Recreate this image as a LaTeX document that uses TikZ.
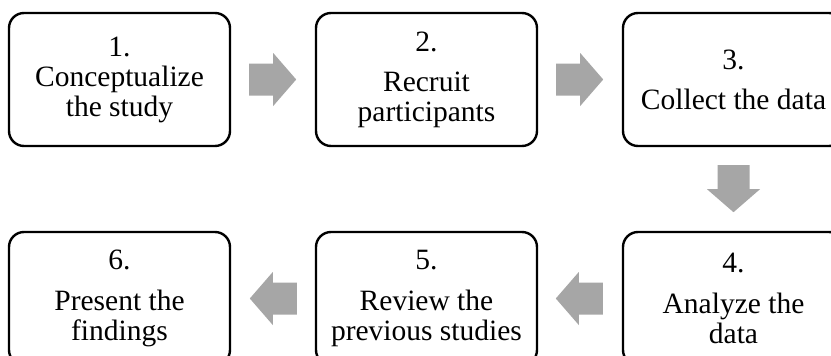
\documentclass[tikz,border=0pt]{standalone}
\usepackage{fontspec}
\setmainfont{Liberation Serif}
\usetikzlibrary{calc}
\definecolor{arrowgray}{RGB}{166,166,166}
\tikzset{
  stepbox/.style={draw=black, line width=2.4pt, rounded corners=15pt,
    minimum width=221pt, minimum height=133pt, inner sep=2pt,
    align=center, font=\fontsize{29.5}{30}\selectfont},
  pics/barrow/.style={code={
    \fill[arrowgray] (0,-16) -- (24,-16) -- (24,-26.5) -- (47,0) -- (24,26.5) -- (24,16) -- (0,16) -- cycle;}}
}
\begin{document}
\begin{tikzpicture}[x=1pt,y=1pt]
\fill[white] (0,0) rectangle (831,-356);
\useasboundingbox (0,0) rectangle (831,-356);
\node[stepbox] (b1) at (119.5,-79.5) {1.\\Conceptualize\\the study};
\node[stepbox] (b2) at (426.5,-79.5) {2.\\[10pt]Recruit\\participants};
\node[stepbox] (b3) at (733.5,-79.5) {3.\\[10pt]Collect the data};
\node[stepbox] (b4) at (733.5,-298.5) {4.\\[11pt]Analyze the\\data};
\node[stepbox] (b5) at (426.5,-298.5) {5.\\[11pt]Review the\\previous studies};
\node[stepbox] (b6) at (119.5,-298.5) {6.\\[11pt]Present the\\findings};
\pic at ($(b1.east)+(18,0)$) {barrow};
\pic at ($(b2.east)+(18,0)$) {barrow};
\pic[rotate=-90] at ($(b3.south)+(0,-18)$) {barrow};
\pic[rotate=180] at ($(b4.west)+(-19,0)$) {barrow};
\pic[rotate=180] at ($(b5.west)+(-18,0)$) {barrow};
\end{tikzpicture}
\end{document}
